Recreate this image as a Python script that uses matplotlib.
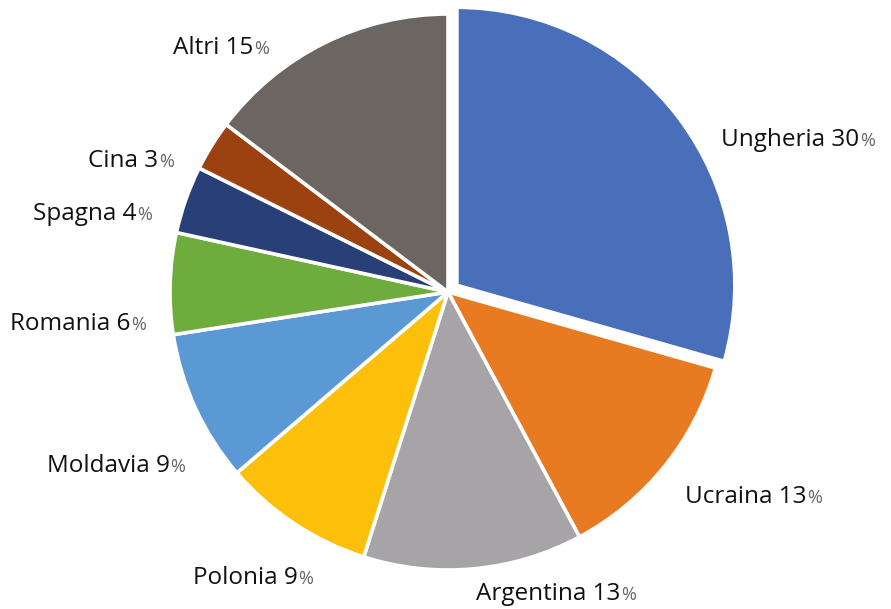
import matplotlib.pyplot as plt
from matplotlib.offsetbox import TextArea, HPacker, AnnotationBbox

paesi = ["Ungheria", "Ucraina", "Argentina", "Polonia", "Moldavia",
         "Romania", "Spagna", "Cina", "Altri"]
quote = [30, 13, 13, 9, 9, 6, 4, 3, 15]

colori = ["#4a6fba", "#e87a22", "#a6a4a6", "#fcc00a", "#5b99d4",
          "#6fac3e", "#283f78", "#9c4210", "#6b6661"]
esplodi = [0.04, 0, 0, 0, 0, 0, 0, 0, 0]

# centro della torta e raggio in pixel
CX, CY, R = 448, 292, 278
W, H = 891, 609

# posizione etichette in pixel (bordo sinistro, centro verticale)
etichette_px = [(721, 140), (685, 497), (476, 594), (193, 578), (47, 466),
                (10, 324), (33, 214), (88, 161), (173, 48)]

fig = plt.figure(figsize=(W / 100, H / 100), dpi=100)
ax = fig.add_axes([0, 0, 1, 1])

ax.pie(quote, colors=colori, explode=esplodi, startangle=90,
       counterclock=False, radius=1.0,
       wedgeprops=dict(edgecolor="white", linewidth=2.6))

ax.set_xlim(-CX / R, (W - CX) / R)
ax.set_ylim(-(H - CY) / R, CY / R)
ax.set_aspect("auto")
ax.axis("off")

font = "Open Sans"
for nome, q, (px, py) in zip(paesi, quote, etichette_px):
    testo = TextArea(f"{nome} {q}",
                     textprops=dict(fontsize=17.5, color="#111111", family=font))
    perc = TextArea("%", textprops=dict(fontsize=13, color="#666666",
                                        family=font))
    riga = HPacker(children=[testo, perc], align="baseline", pad=0, sep=0.5)
    xy = ((px - CX) / R, (CY - py) / R)
    ab = AnnotationBbox(riga, xy, frameon=False, box_alignment=(0, 0.5),
                        pad=0)
    ax.add_artist(ab)

plt.savefig("out.png", dpi=100)
plt.close()
